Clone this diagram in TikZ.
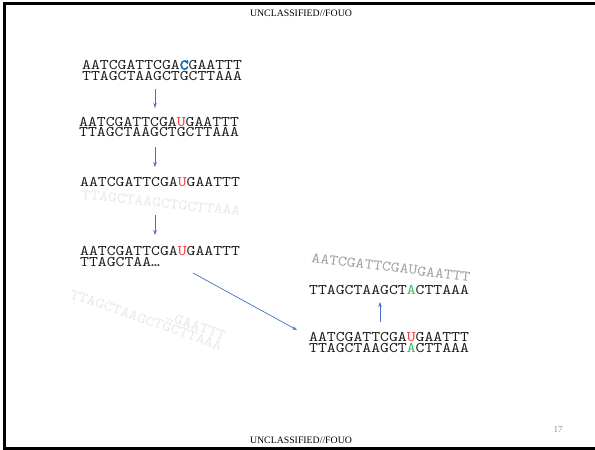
\documentclass[tikz,border=0pt]{standalone}
\usepackage{fontspec}
\setmainfont{Liberation Serif}
\newfontfamily\dnafont{lmmono10-regular.otf}[FakeStretch=1.15]
\newfontfamily\dnabold{lmmono10-regular.otf}[FakeStretch=1.15, FakeBold=3]
\usetikzlibrary{arrows.meta}
\definecolor{dnagray}{HTML}{1E1E1E}
\definecolor{cblue}{HTML}{0070C0}
\definecolor{ured}{HTML}{FF3A3A}
\definecolor{agreen}{HTML}{2DBE64}
\definecolor{arrowblue}{HTML}{4472C4}
\definecolor{ghost}{HTML}{E8E8E8}
\definecolor{midghost}{HTML}{A0A0A0}
\definecolor{pagenum}{HTML}{8C8C8C}
\tikzset{
  dna/.style={font=\dnafont\fontsize{14.7pt}{15pt}\selectfont, text=dnagray, inner sep=0pt, anchor=base west},
  ghosttext/.style={dna, text=ghost},
  midtext/.style={dna, text=midghost},
  flow/.style={draw=arrowblue, line width=0.7pt, -{Stealth[length=5pt,width=3.5pt]}},
  banner/.style={font=\fontsize{9.8pt}{11pt}\selectfont, text=black, inner sep=0pt},
  frameline/.style={line width=3pt, black}
}
\newcommand{\U}{\textcolor{ured}{U}}
\newcommand{\G}{\textcolor{agreen}{A}}
\newcommand{\Cb}{{\dnabold\textcolor{cblue}{C}}}
\begin{document}
\begin{tikzpicture}[x=1pt,y=-1pt]
\useasboundingbox (0,0) rectangle (595,450);
% frame
\draw[frameline] (3,3.5) -- (595,3.5);
\draw[frameline] (4,2) -- (4,450);
\draw[frameline] (3,448) -- (595,448);
% banners
\node[banner] (hdr) at (301,13) {UNCLASSIFIED//FOUO};
\node[banner] (ftr) at (301,440) {UNCLASSIFIED//FOUO};
\node[banner, text=pagenum, font=\fontsize{9pt}{10pt}\selectfont] (pg) at (558,430) {17};
% block 1
\node[dna] (b1a) at (82,69.5) {AATCGATTCGA\Cb GAATTT};
\node[dna] (b1b) at (82,80.5) {TTAGCTAAGCTGCTTAAA};
% block 2
\node[dna] (b2a) at (79,126.5) {AATCGATTCGA\U GAATTT};
\node[dna] (b2b) at (79,136.5) {TTAGCTAAGCTGCTTAAA};
% block 3
\node[dna] (b3a) at (80,186.5) {AATCGATTCGA\U GAATTT};
\node[ghosttext, rotate=-6] (b3g) at (81,199) {TTAGCTAAGCTGCTTAAA};
% block 4
\node[dna] (b4a) at (80,255.5) {AATCGATTCGA\U GAATTT};
\node[dna] (b4b) at (80,266.5) {TTAGCTAA…};
\node[ghosttext, rotate=-19] (g1) at (69,298) {TTAGCTAAGCTGCTTAAA};
\node[ghosttext, rotate=-19, anchor=base east] (g2) at (224,340) {…GAATTT};
% right block
\node[midtext, rotate=-7] (r0) at (311,262) {AATCGATTCGAUGAATTT};
\node[dna] (r1) at (309,294.5) {TTAGCTAAGCT\G CTTAAA};
\node[dna] (r2) at (309,341.5) {AATCGATTCGA\U GAATTT};
\node[dna] (r3) at (309,352.5) {TTAGCTAAGCT\G CTTAAA};
% arrow end points
\coordinate (a1s) at (155,89);  \coordinate (a1e) at (155,108);
\coordinate (a2s) at (155,147); \coordinate (a2e) at (155,167);
\coordinate (a3s) at (155,215); \coordinate (a3e) at (155,235);
\coordinate (a4s) at (193,273); \coordinate (a4e) at (297,330);
\coordinate (a5s) at (380,322); \coordinate (a5e) at (380,302);
\draw[flow] (a1s) -- (a1e);
\draw[flow] (a2s) -- (a2e);
\draw[flow] (a3s) -- (a3e);
\draw[flow] (a4s) -- (a4e);
\draw[flow] (a5s) -- (a5e);
\end{tikzpicture}
\end{document}
